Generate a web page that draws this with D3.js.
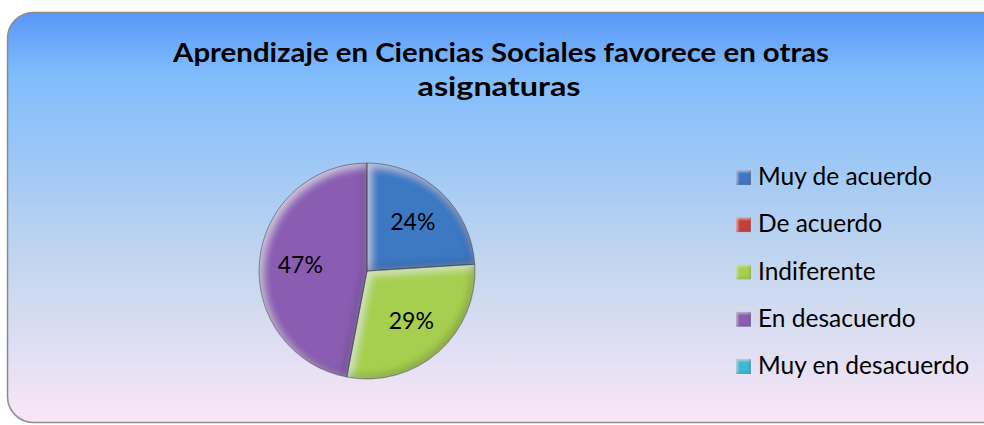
<!DOCTYPE html>
<html>
<head>
<meta charset="utf-8">
<script src="https://cdn.jsdelivr.net/npm/d3@7"></script>
<style>
  html, body { margin: 0; padding: 0; background: #fff; }
  svg { display: block; font-family: Lato, "Open Sans", sans-serif; }
</style>
</head>
<body>
<div id="chart_container"></div>
<script>
// chart data
const categories = ["Muy de acuerdo", "De acuerdo", "Indiferente", "En desacuerdo", "Muy en desacuerdo"];
const values = [24, 0, 29, 47, 0];
const colors = ["#3c79c2", "#c4403c", "#a7cf4f", "#8a5db2", "#3cb8d6"];
const titleLines = ["Aprendizaje en Ciencias Sociales favorece en otras", "asignaturas"];

const W = 984, H = 425;
const CX = 367, CY = 271, R = 108;

const svg = d3.select("#chart_container").append("svg")
  .attr("width", W).attr("height", H);

const defs = svg.append("defs");

// background gradient
const bg = defs.append("linearGradient").attr("id", "bg")
  .attr("x1", 0).attr("y1", 0).attr("x2", 0).attr("y2", 1);
[[0, "#5797f7"], [0.15, "#80bcfc"], [0.35, "#9cc7f6"], [0.65, "#c8d8ee"], [1, "#f9e6f7"]]
  .forEach(([o, c]) => bg.append("stop").attr("offset", o).attr("stop-color", c));

// soft bevel: light band on the upper-left edges, dark band on the lower-right
const makeBevel = (id, blur, shift, lightOp, darkOp) => {
  const f = defs.append("filter").attr("id", id)
    .attr("x", "-10%").attr("y", "-10%").attr("width", "120%").attr("height", "120%");
  f.append("feGaussianBlur").attr("in", "SourceAlpha").attr("stdDeviation", blur).attr("result", "blur");
  f.append("feOffset").attr("in", "blur").attr("dx", shift).attr("dy", shift).attr("result", "offA");
  f.append("feOffset").attr("in", "blur").attr("dx", -shift).attr("dy", -shift).attr("result", "offB");
  f.append("feComposite").attr("in", "SourceAlpha").attr("in2", "offA")
    .attr("operator", "arithmetic").attr("k2", 1).attr("k3", -1).attr("result", "edgeLight");
  f.append("feComposite").attr("in", "SourceAlpha").attr("in2", "offB")
    .attr("operator", "arithmetic").attr("k2", 1).attr("k3", -1).attr("result", "edgeDark");
  f.append("feFlood").attr("flood-color", "#ffffff").attr("flood-opacity", lightOp).attr("result", "white");
  f.append("feComposite").attr("in", "white").attr("in2", "edgeLight").attr("operator", "in").attr("result", "light");
  f.append("feFlood").attr("flood-color", "#000000").attr("flood-opacity", darkOp).attr("result", "black");
  f.append("feComposite").attr("in", "black").attr("in2", "edgeDark").attr("operator", "in").attr("result", "dark");
  const m = f.append("feMerge").attr("result", "merged");
  m.append("feMergeNode").attr("in", "SourceGraphic");
  m.append("feMergeNode").attr("in", "light");
  m.append("feMergeNode").attr("in", "dark");
  f.append("feComposite").attr("in", "merged").attr("in2", "SourceAlpha").attr("operator", "in");
};
makeBevel("bevel", 4, 3, 0.6, 0.45);
makeBevel("bevelSmall", 1.5, 1.2, 0.55, 0.45);

// chart area box
svg.append("rect")
  .attr("x", 7.5).attr("y", 12.5)
  .attr("width", 1010).attr("height", 410)
  .attr("rx", 26).attr("ry", 26)
  .attr("fill", "url(#bg)")
  .attr("stroke", "#8c8c8c").attr("stroke-width", 1.5);

// title
const title = svg.append("text")
  .attr("text-anchor", "middle")
  .attr("font-weight", "bold")
  .attr("font-size", 27)
  .attr("fill", "#000");
title.append("tspan").attr("x", 501).attr("y", 62).text(titleLines[0])
  .attr("textLength", 656).attr("lengthAdjust", "spacingAndGlyphs");
title.append("tspan").attr("x", 499).attr("y", 96).text(titleLines[1])
  .attr("textLength", 163).attr("lengthAdjust", "spacingAndGlyphs");

// pie
const pie = d3.pie().sort(null).value(d => d.value);
const arcs = pie(categories.map((c, i) => ({ name: c, value: values[i], color: colors[i] })));
const arc = d3.arc().innerRadius(0).outerRadius(R);
const labelArc = d3.arc().innerRadius(R * 0.62).outerRadius(R * 0.62);

const g = svg.append("g").attr("transform", `translate(${CX},${CY})`);

g.selectAll("path")
  .data(arcs.filter(d => d.value > 0))
  .enter()
  .append("path")
  .attr("d", arc)
  .attr("fill", d => d.data.color)
  .attr("filter", "url(#bevel)");

g.selectAll("path.edge")
  .data(arcs.filter(d => d.value > 0))
  .enter()
  .append("path")
  .attr("class", "edge")
  .attr("d", arc)
  .attr("fill", "none")
  .attr("stroke", "#2a2a3a")
  .attr("stroke-opacity", 0.45)
  .attr("stroke-width", 1);

g.selectAll("text")
  .data(arcs.filter(d => d.value > 0))
  .enter()
  .append("text")
  .attr("transform", d => `translate(${labelArc.centroid(d)})`)
  .attr("text-anchor", "middle")
  .attr("dy", "0.35em")
  .attr("font-size", 23)
  .attr("fill", "#000")
  .text(d => d.value + "%");

// legend
const legendY = d3.scalePoint().domain(categories).range([185, 374]);
const legend = svg.append("g");
const items = legend.selectAll("g")
  .data(categories)
  .enter()
  .append("g")
  .attr("transform", d => `translate(736,${legendY(d)})`);

items.append("rect")
  .attr("x", 0).attr("y", -15)
  .attr("width", 15).attr("height", 15)
  .attr("fill", (d, i) => colors[i])
  .attr("filter", "url(#bevelSmall)");

items.append("text")
  .attr("x", 22)
  .attr("font-size", 24.5)
  .attr("fill", "#000")
  .text(d => d);
</script>
</body>
</html>
